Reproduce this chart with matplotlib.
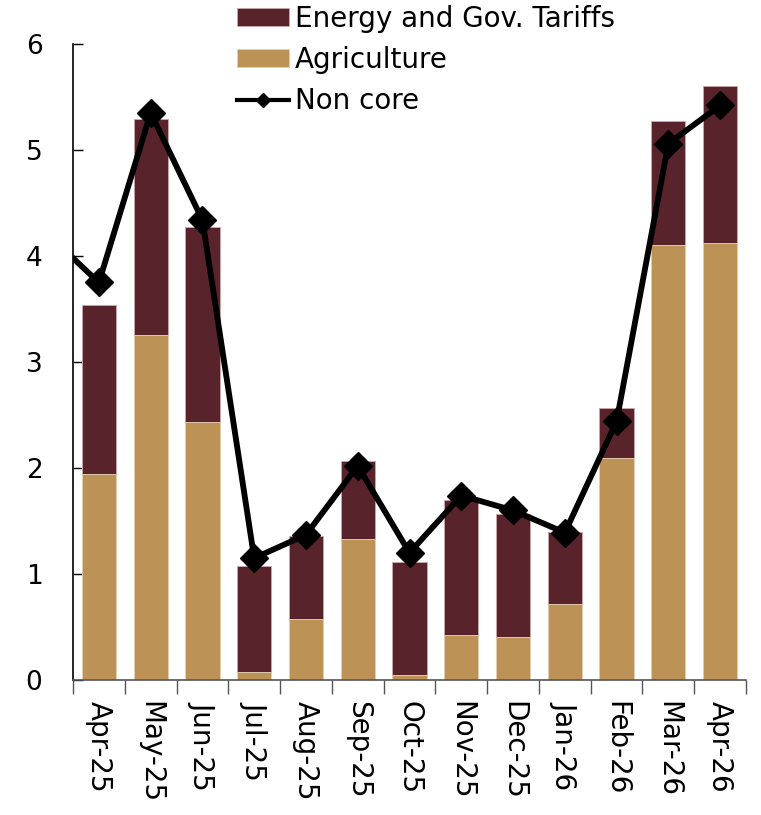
import matplotlib
matplotlib.use("Agg")
import matplotlib.pyplot as plt
import numpy as np

months = ["Apr-25", "May-25", "Jun-25", "Jul-25", "Aug-25", "Sep-25", "Oct-25",
          "Nov-25", "Dec-25", "Jan-26", "Feb-26", "Mar-26", "Apr-26"]
agriculture = [1.94, 3.25, 2.43, 0.08, 0.58, 1.33, 0.05, 0.42, 0.41, 0.72, 2.09, 4.10, 4.12]
energy_gov = [1.60, 2.04, 1.84, 1.00, 0.78, 0.74, 1.06, 1.28, 1.16, 0.68, 0.48, 1.17, 1.48]
# non core, with the previous month (Mar-25) first; it sits left of the axis and is clipped
non_core_prev = 4.21
non_core = [3.75, 5.35, 4.34, 1.15, 1.37, 2.02, 1.20, 1.74, 1.60, 1.39, 2.44, 5.06, 5.42]

MAROON = "#58232b"
TAN = "#bc9257"

plt.rcParams["font.family"] = ["DejaVu Sans"]

fig = plt.figure(figsize=(7.61, 8.15), dpi=100)
ax = fig.add_axes([73 / 761, 1 - 680 / 815, (746 - 73) / 761, (680 - 44) / 815])

x = np.arange(len(months))
ax.bar(x, energy_gov, width=0.66, bottom=agriculture, color=MAROON,
       edgecolor="#c9a9a9", linewidth=0.6, label="Energy and Gov. Tariffs", zorder=2)
ax.bar(x, agriculture, width=0.66, color=TAN, edgecolor="#e2cfb0", linewidth=0.6,
       label="Agriculture", zorder=2)

xl = np.concatenate([[-1], x])
yl = [non_core_prev] + non_core
ax.plot(xl, yl, color="black", lw=4.2, zorder=3, clip_on=True)
ax.plot(x, non_core, color="black", lw=0, marker="D", markersize=14, zorder=4, clip_on=False)
line_handle = matplotlib.lines.Line2D([], [], color="black", lw=3, marker="D", markersize=7)

ax.set_xlim(-0.5, len(months) - 0.5)
ax.set_ylim(0, 6)
ax.set_yticks(range(0, 7))
ax.tick_params(axis="y", direction="in", length=7, labelsize=19, pad=22, width=1)
ax.set_xticks(x)
ax.set_xticklabels(months, rotation=-90, fontsize=20, va="top", ha="center")
ax.set_xticks(np.arange(-0.5, len(months)), minor=True)
ax.tick_params(axis="x", which="major", length=0, pad=15)
ax.tick_params(axis="x", which="minor", direction="out", length=10, width=1, color="#555555")
for s in ["top", "right"]:
    ax.spines[s].set_visible(False)
ax.spines["left"].set_linewidth(1.2)
ax.spines["bottom"].set_color("#555555")
ax.spines["bottom"].set_linewidth(1.2)

handles, labels = ax.get_legend_handles_labels()
handles.append(line_handle)
labels.append("Non core")
leg = fig.legend(handles, labels, loc="upper left", bbox_to_anchor=(232 / 761, 1.0),
                 frameon=False, fontsize=20, handlelength=1.87, handleheight=0.62,
                 handletextpad=0.2, labelspacing=0.47, borderaxespad=0, borderpad=0.18)

fig.savefig("out.png", dpi=100)
